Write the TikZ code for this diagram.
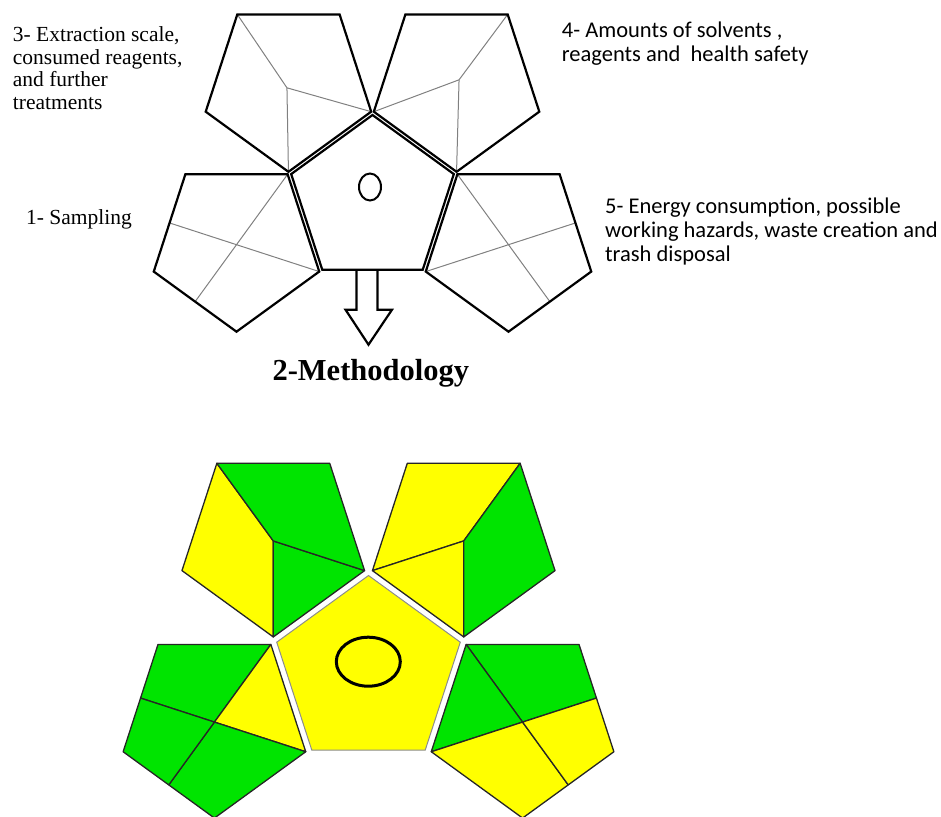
\documentclass[tikz,border=0pt]{standalone}
\usepackage{fontspec}
\setmainfont{Liberation Serif}
\newfontfamily\calib{Carlito}
\usetikzlibrary{calc}
\definecolor{gapigreen}{RGB}{0,228,0}
\definecolor{gapiyellow}{RGB}{255,255,0}
\newcommand\mkpent[4]{% name, center, radius, first math angle
  \foreach \k in {0,72,144,216,288}{\coordinate (#1-\k) at ($(#2)+({-(#4+\k)}:#3)$);}}
\tikzset{
  thickline/.style={line width=2.2pt, line join=miter, draw=black},
  thinline/.style={line width=1pt, draw=black!50},
  colline/.style={line width=1.3pt, draw=black!85, line join=round},
  gfill/.style={fill=gapigreen},
  yfill/.style={fill=gapiyellow},
  serlabel/.style={font=\fontsize{21.5}{22.5}\selectfont, align=left, inner sep=0pt, anchor=base west},
  sanslabel/.style={font=\calib\fontsize{22.5}{23.8}\selectfont, align=left, inner sep=0pt, anchor=base west},
  titlelabel/.style={font=\bfseries\fontsize{30.5}{32}\selectfont, inner sep=0pt, anchor=base}
}
\begin{document}
\begin{tikzpicture}[x=1pt,y=-1pt]
\useasboundingbox (0,0) rectangle (941,816);
\clip (0,0) rectangle (941,816);
% ---------------- top (outline) figure ----------------
\coordinate (TC) at (372.5,200.5);
\mkpent{tc}{TC}{85.5}{90}
\coordinate (TUL) at ($(TC)+(-126:143)$);
\coordinate (TUR) at ($(TC)+(-54:143)$);
\coordinate (TLL) at ($(TC)+(-198:143)$);
\coordinate (TLR) at ($(TC)+(-342:143)$);
\mkpent{tul}{TUL}{87}{126}
\mkpent{tur}{TUR}{87}{54}
\mkpent{tll}{TLL}{87}{198}
\mkpent{tlr}{TLR}{87}{342}
\coordinate (tulj) at ($(TUL)+(-1.5,3)$);
\coordinate (turj) at ($(TUR)+(2.5,-5)$);
% thin inner lines
\draw[thinline] (tul-0) -- (tulj) -- (tul-216) (tulj) -- (tul-144);
\draw[thinline] (tur-0) -- (turj) -- (tur-144) (turj) -- (tur-216);
\draw[thinline] (tll-144) -- ($(tll-288)!0.5!(tll-0)$) (tll-216) -- ($(tll-0)!0.5!(tll-72)$);
\draw[thinline] (tlr-144) -- ($(tlr-0)!0.5!(tlr-288)$) (tlr-216) -- ($(tlr-72)!0.5!(tlr-0)$);
% outlines
\draw[thickline] (tc-0) -- (tc-72) -- (tc-144) -- (tc-216) -- (tc-288) -- cycle;
\foreach \p in {tul,tur,tll,tlr}{\draw[thickline] (\p-0) -- (\p-72) -- (\p-144) -- (\p-216) -- (\p-288) -- cycle;}
\draw[line width=2pt] (370,187) ellipse [x radius=11pt, y radius=13.5pt];
% hollow arrow
\coordinate (arrtop) at ($(tc-144)!0.5!(tc-216)$);
\draw[thickline, line join=miter] ($(arrtop)+(-16,0)$) -- ($(arrtop)+(-16,40)$) -- ($(arrtop)+(-27,40)$)
  -- ($(arrtop)+(-4,75)$) -- ($(arrtop)+(19.5,40)$) -- ($(arrtop)+(5,40)$) -- ($(arrtop)+(5,0)$);
\node[titlelabel] (meth) at (370.8,380.7) {2-Methodology};
% labels (base anchor = baseline of the last line)
\node[serlabel] (lab3) at (12.7,109.2) {3- Extraction scale,\\consumed reagents,\\and further\\treatments};
\node[serlabel] (lab1) at (26,224) {1- Sampling};
\node[sanslabel] (lab4) at (561.7,61.5) {4- Amounts of solvents ,\\reagents and~~health safety};
\node[sanslabel] (lab5) at (605,261) {5- Energy consumption, possible\\working hazards, waste creation and\\trash disposal};
% ---------------- bottom (coloured) figure ----------------
\coordinate (BC) at (368.5,672);
\mkpent{bc}{BC}{96.5}{90}
\coordinate (BUL) at ($(BC)+(-126:162)$);
\coordinate (BUR) at ($(BC)+(-54:162)$);
\coordinate (BLL) at ($(BC)+(-198:162)$);
\coordinate (BLR) at ($(BC)+(-342:162)$);
\mkpent{bul}{BUL}{96}{126}
\mkpent{bur}{BUR}{96}{54}
\mkpent{bll}{BLL}{96}{198}
\mkpent{blr}{BLR}{96}{342}
% upper left
\filldraw[colline, yfill] (BUL) -- (bul-0) -- (bul-72) -- (bul-144) -- cycle;
\filldraw[colline, gfill] (BUL) -- (bul-144) -- (bul-216) -- cycle;
\filldraw[colline, gfill] (BUL) -- (bul-216) -- (bul-288) -- (bul-0) -- cycle;
% upper right
\filldraw[colline, yfill] (BUR) -- (bur-0) -- (bur-72) -- (bur-144) -- cycle;
\filldraw[colline, yfill] (BUR) -- (bur-144) -- (bur-216) -- cycle;
\filldraw[colline, gfill] (BUR) -- (bur-216) -- (bur-288) -- (bur-0) -- cycle;
% lower left
\coordinate (bllm1) at ($(bll-288)!0.5!(bll-0)$);
\coordinate (bllm2) at ($(bll-0)!0.5!(bll-72)$);
\filldraw[colline, gfill] (BLL) -- (bllm1) -- (bll-288) -- (bll-216) -- cycle;
\filldraw[colline, yfill] (BLL) -- (bll-216) -- (bll-144) -- cycle;
\filldraw[colline, gfill] (BLL) -- (bll-144) -- (bll-72) -- (bllm2) -- cycle;
\filldraw[colline, gfill] (BLL) -- (bllm2) -- (bll-0) -- (bllm1) -- cycle;
% lower right
\coordinate (blrm1) at ($(blr-0)!0.5!(blr-288)$);
\coordinate (blrm2) at ($(blr-72)!0.5!(blr-0)$);
\filldraw[colline, gfill] (BLR) -- (blr-144) -- (blr-72) -- (blrm2) -- cycle;
\filldraw[colline, gfill] (BLR) -- (blr-216) -- (blr-144) -- cycle;
\filldraw[colline, yfill] (BLR) -- (blrm1) -- (blr-288) -- (blr-216) -- cycle;
\filldraw[colline, yfill] (BLR) -- (blrm2) -- (blr-0) -- (blrm1) -- cycle;
% centre
\filldraw[fill=gapiyellow, draw=black!45, line width=1pt] (bc-0) -- (bc-72) -- (bc-144) -- (bc-216) -- (bc-288) -- cycle;
\draw[line width=3pt] (368.3,661.7) ellipse [x radius=32pt, y radius=24.5pt];
\end{tikzpicture}
\end{document}
